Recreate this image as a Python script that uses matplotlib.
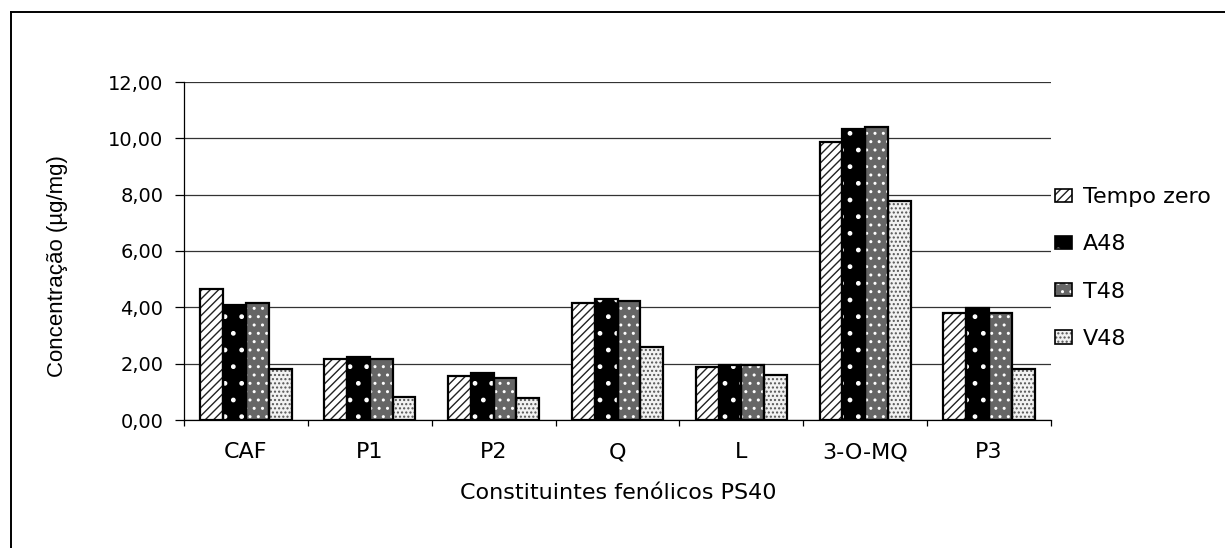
import numpy as np
import matplotlib
matplotlib.use("Agg")
import matplotlib.pyplot as plt
from matplotlib.patches import Patch
from matplotlib.lines import Line2D
from matplotlib import font_manager

# ---------------- data ----------------
categories = ['CAF', 'P1', 'P2', 'Q', 'L', '3-O-MQ', 'P3']
series_names = ['Tempo zero', 'A48', 'T48', 'V48']
tempo_zero = [4.66, 2.15, 1.57, 4.15, 1.87, 9.88, 3.81]
a48 = [4.10, 2.23, 1.66, 4.31, 1.94, 10.32, 3.96]
t48 = [4.15, 2.15, 1.50, 4.24, 1.94, 10.40, 3.81]
v48 = [1.81, 0.81, 0.79, 2.59, 1.59, 7.76, 1.80]
yticks = [0, 2, 4, 6, 8, 10, 12]
ytick_labels = ['0,00', '2,00', '4,00', '6,00', '8,00', '10,00', '12,00']
xlabel = 'Constituintes fenólicos PS40'
ylabel = 'Concentração (µg/mg)'

# ---------------- styles ----------------
plt.rcParams['font.family'] = ['DejaVu Sans']
plt.rcParams['hatch.linewidth'] = 1.0
W, H = 1225, 548
fig = plt.figure(figsize=(W / 100, H / 100), dpi=100)
fig.patch.set_facecolor('white')

ax_l, ax_r, ax_t, ax_b = 184, 1051, 82, 420
ax = fig.add_axes([ax_l / W, 1 - ax_b / H, (ax_r - ax_l) / W, (ax_b - ax_t) / H])

styles = [
    dict(fc='white', hc='#222222', hatch='////'),
    dict(fc='black', hc='white', hatch='.'),
    dict(fc='#666666', hc='white', hatch='..'),
    dict(fc='#f2f2f2', hc='#555555', hatch='....'),
]
data = [tempo_zero, a48, t48, v48]
x = np.arange(len(categories))
w = 0.184

handles = []
for i, (vals, st) in enumerate(zip(data, styles)):
    pos = x + (i - 1.5) * w
    ax.bar(pos, vals, width=w, color=st['fc'], edgecolor=st['hc'],
           hatch=st['hatch'], linewidth=0, zorder=3)
    ax.bar(pos, vals, width=w, color='none', edgecolor='black',
           linewidth=1.6, zorder=4)
    handles.append((Patch(facecolor=st['fc'], edgecolor=st['hc'], hatch=st['hatch'], linewidth=0),
                    Patch(facecolor='none', edgecolor='black', linewidth=1.2)))

ax.set_xlim(-0.5, len(categories) - 0.5)
ax.set_ylim(0, 12)
ax.set_yticks(yticks)
ax.set_yticklabels(ytick_labels, fontsize=14)
ax.tick_params(axis='y', direction='out', length=6.3, width=0.9, pad=8.5, colors='black')
ax.set_xticks(x)
ax.set_xticklabels(categories, fontsize=16)
ax.tick_params(axis='x', which='major', length=0, pad=16)
ax.set_xticks(np.arange(len(categories) + 1) - 0.5, minor=True)
ax.tick_params(axis='x', which='minor', direction='out', length=4.3, width=0.9)

ax.yaxis.grid(True, color='#333333', linewidth=0.9, zorder=0)
ax.set_axisbelow(True)
for s in ['top', 'right']:
    ax.spines[s].set_visible(False)
for s in ['left', 'bottom']:
    ax.spines[s].set_color('black')
    ax.spines[s].set_linewidth(0.9)

# axis titles
fig.text(618 / W, 1 - 493 / H, xlabel, fontsize=16, ha='center', va='center')
yl_family = ['Liberation Sans Narrow', 'Liberation Sans', 'DejaVu Sans']
avail = {f.name for f in font_manager.fontManager.ttflist}
yl_fam = [f for f in yl_family if f in avail]
yl_size = 19 if 'Liberation Sans Narrow' in yl_fam[:1] else 16
fig.text(58 / W, 1 - 266 / H, ylabel, fontsize=yl_size, family=yl_fam,
         rotation=90, ha='center', va='center')

# legend
leg = fig.legend(handles, series_names, loc='center left',
                 bbox_to_anchor=(1055 / W, 1 - 268 / H), frameon=False,
                 fontsize=16, handlelength=0.77, handleheight=0.55,
                 handletextpad=0.5, labelspacing=1.22, borderpad=0, borderaxespad=0)

# outer border (top and left only visible)
fig.add_artist(Line2D([11 / W, 1], [1 - 12 / H, 1 - 12 / H], transform=fig.transFigure,
                      color='black', linewidth=1.4))
fig.add_artist(Line2D([11 / W, 11 / W], [0, 1 - 12 / H], transform=fig.transFigure,
                      color='black', linewidth=1.4))

fig.savefig('out.png', dpi=100)
